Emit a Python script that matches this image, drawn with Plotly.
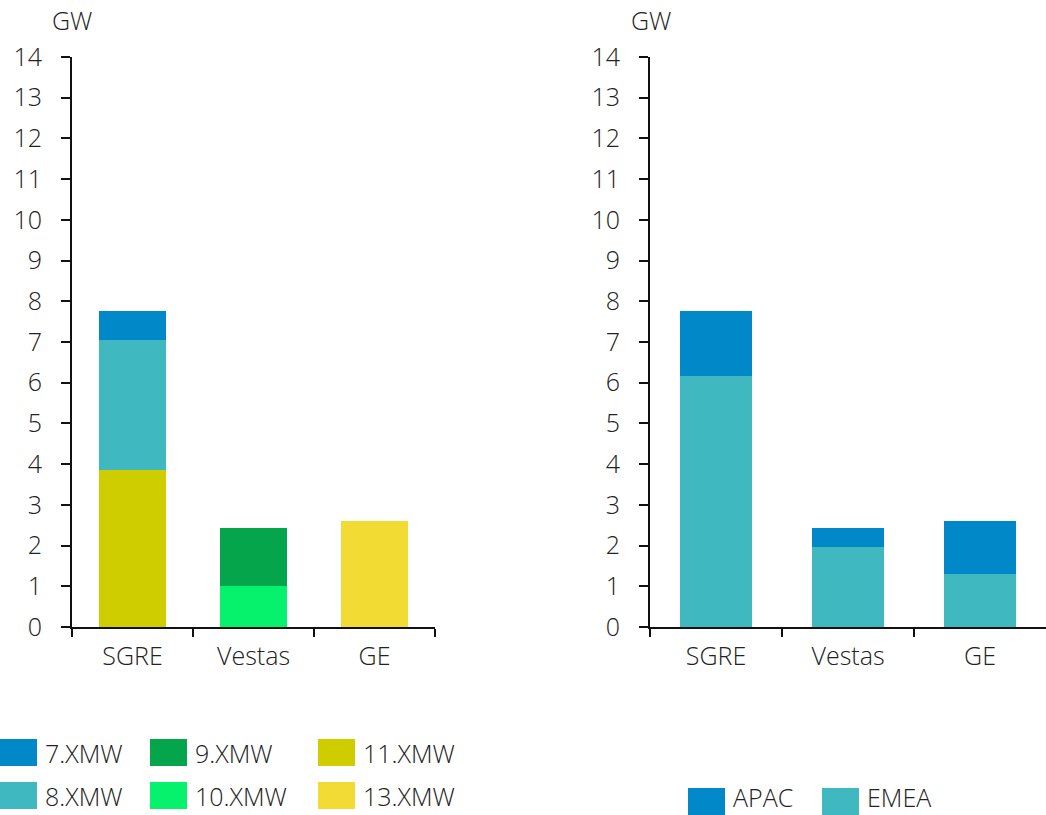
import plotly.graph_objects as go

categories = ["SGRE", "Vestas", "GE"]

# Left chart: by turbine rating (GW)
mw7 = [0.70, None, None]
mw8 = [3.20, None, None]
mw9 = [None, 1.43, None]
mw10 = [None, 1.00, None]
mw11 = [3.85, None, None]
mw13 = [None, None, 2.60]

# Right chart: by region (GW)
emea = [6.17, 1.97, 1.30]
apac = [1.58, 0.46, 1.30]

yticks = list(range(0, 15))

C7, C8, C9, C10, C11, C13 = "#0088c8", "#3fb8c0", "#04a54b", "#06f26c", "#cfcd00", "#f2dc34"

FONT = dict(family="Open Sans", size=25, color="#222222", weight=300)

fig = go.Figure()

left_series = [
    ("11.XMW", mw11, C11),
    ("10.XMW", mw10, C10),
    ("13.XMW", mw13, C13),
    ("8.XMW", mw8, C8),
    ("9.XMW", mw9, C9),
    ("7.XMW", mw7, C7),
]
for name, vals, col in left_series:
    fig.add_trace(go.Bar(x=categories, y=vals, name=name, marker=dict(color=col, line=dict(width=0)),
                         width=0.56, xaxis="x", yaxis="y", showlegend=False))

for name, vals, col in [("EMEA", emea, C8), ("APAC", apac, C7)]:
    fig.add_trace(go.Bar(x=categories, y=vals, name=name, marker=dict(color=col, line=dict(width=0)),
                         width=0.55, xaxis="x2", yaxis="y2", showlegend=False))

W, H = 1046, 815
def px(x): return x / W
def py(y): return 1 - y / H

xcommon = dict(type="category", range=[-0.5, 2.5], showline=True, linecolor="#111111", linewidth=2,
               ticks="outside", ticklen=8, tickwidth=2, tickcolor="#111111", tickson="boundaries",
               showgrid=False, zeroline=False, tickfont=FONT, ticklabelstandoff=6, fixedrange=True,
               automargin=False)
ycommon = dict(range=[0, 14], tickmode="array", tickvals=yticks, showline=True, linecolor="#111111",
               linewidth=2, ticks="outside", ticklen=9, tickwidth=2, tickcolor="#111111",
               showgrid=False, zeroline=False, tickfont=FONT, ticklabelstandoff=14, fixedrange=True,
               automargin=False)

fig.update_layout(
    width=W, height=H, margin=dict(l=0, r=0, t=0, b=0, autoexpand=False),
    paper_bgcolor="white", plot_bgcolor="white",
    barmode="stack", font=FONT,
    xaxis=dict(domain=[px(72), px(435)], anchor="y", **xcommon),
    yaxis=dict(domain=[py(627), py(57)], anchor="x", **ycommon),
    xaxis2=dict(domain=[px(650), 1.0], anchor="y2", **xcommon),
    yaxis2=dict(domain=[py(627), py(57)], anchor="x2", **ycommon),
)

# GW unit labels
for xpos in (72, 651):
    fig.add_annotation(x=px(xpos - 22), y=py(20), xref="paper", yref="paper", text="GW",
                       showarrow=False, font=FONT, xanchor="left", yanchor="middle")

# Legend swatches and labels (drawn in paper coordinates)
legend_items = [
    ("7.XMW", C7, 0, 739, 0), ("9.XMW", C9, 150, 739, 0), ("11.XMW", C11, 318, 739, 0),
    ("8.XMW", C8, 0, 782, 0), ("10.XMW", C10, 150, 782, 0), ("13.XMW", C13, 318, 782, 0),
    ("APAC", C7, 688, 788, -5), ("EMEA", C8, 822, 788, -5),
]
for label, col, x0, y0, dy in legend_items:
    fig.add_shape(type="rect", xref="paper", yref="paper", x0=px(x0), x1=px(x0 + 37),
                  y0=py(y0), y1=py(y0 + 27), fillcolor=col, line=dict(width=0))
    fig.add_annotation(x=px(x0 + 44), y=py(y0 + 14 + dy), xref="paper", yref="paper", text=label,
                       showarrow=False, font=FONT, xanchor="left", yanchor="middle", borderpad=0)

fig.write_html("out.html", config={"displayModeBar": False},
               post_script="document.body.style.margin='0px';")
